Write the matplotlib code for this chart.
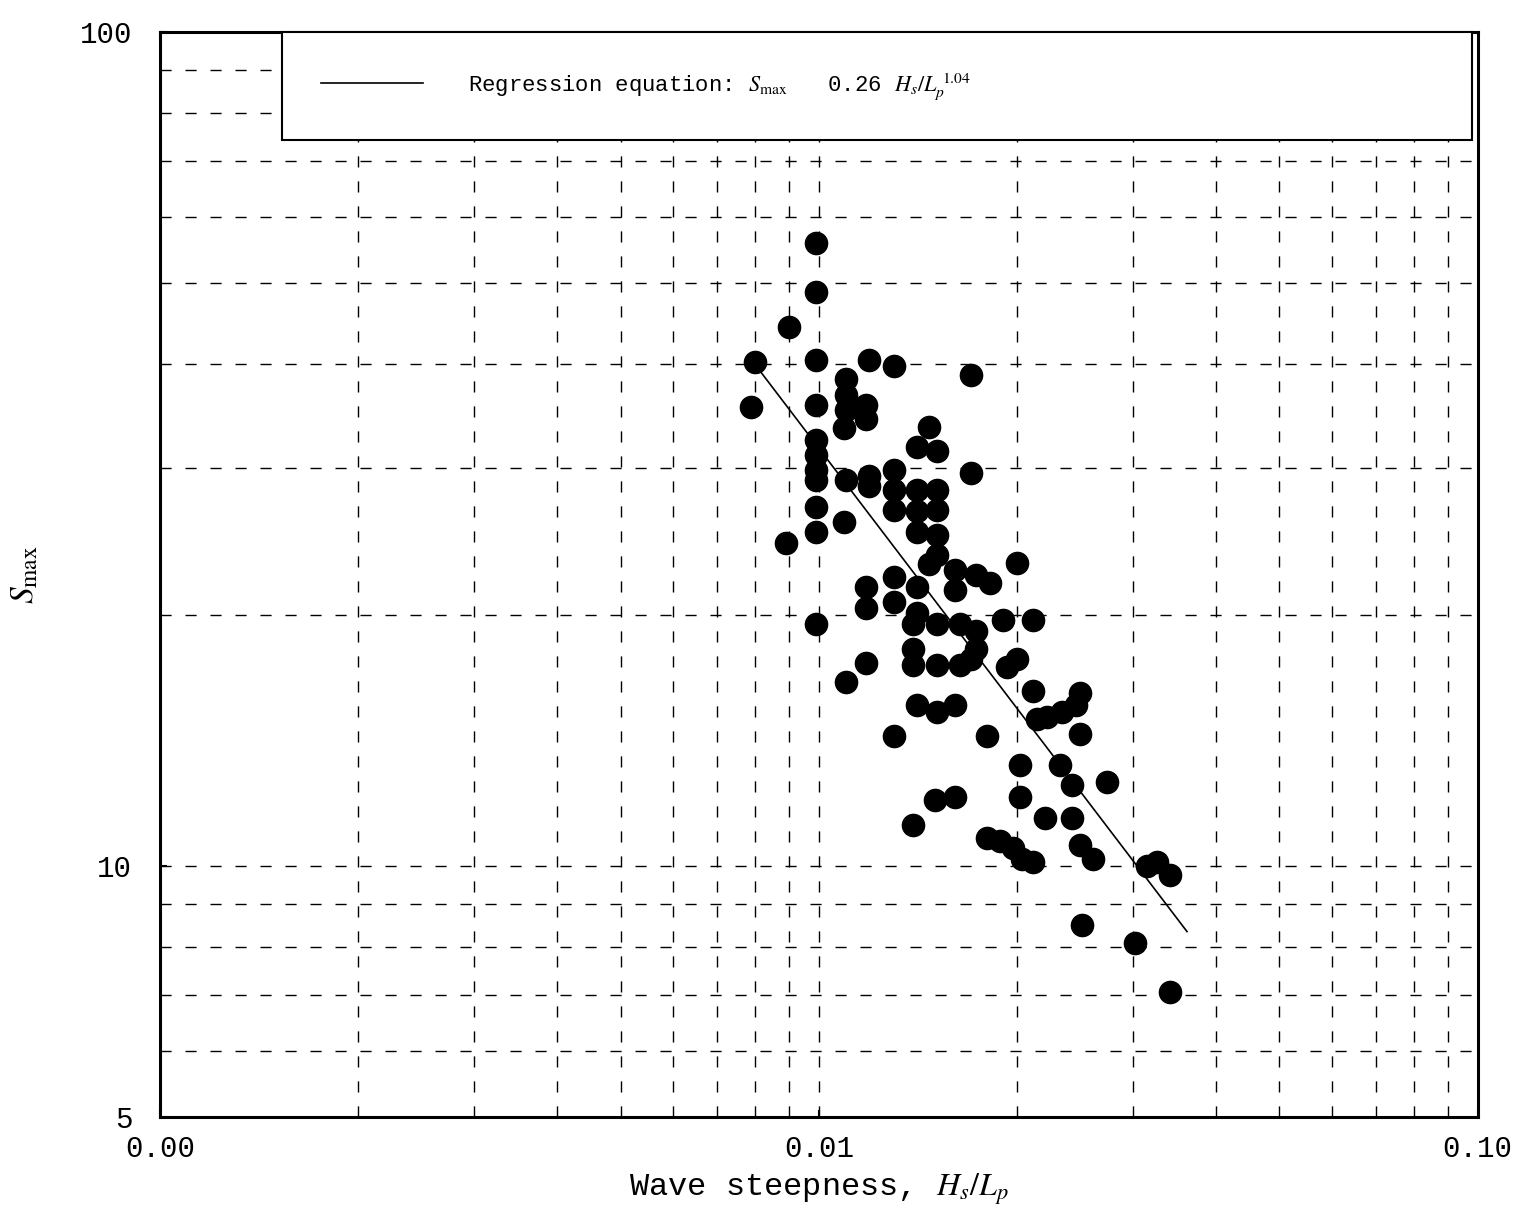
import numpy as np
import matplotlib
matplotlib.use("Agg")
import matplotlib.pyplot as plt
from matplotlib.ticker import LogLocator, FixedLocator, FixedFormatter, NullFormatter

# wave steepness Hs/Lp and Smax
steepness = [0.0099, 0.0099, 0.0090, 0.0080, 0.0099, 0.0119, 0.0130, 0.0170,
             0.0079, 0.0099, 0.0110, 0.0110, 0.0110, 0.0118, 0.0118, 0.0109,
             0.0147, 0.0141, 0.0151, 0.0099, 0.0099, 0.0099, 0.0099, 0.0170,
             0.0110, 0.0119, 0.0119, 0.0130, 0.0130, 0.0130, 0.0141, 0.0151,
             0.0141, 0.0151, 0.0141, 0.0151, 0.0151, 0.0099, 0.0099, 0.0109,
             0.0089, 0.0200, 0.0147, 0.0161, 0.0173, 0.0182, 0.0161, 0.0130,
             0.0118, 0.0118, 0.0130, 0.0141, 0.0141, 0.0190, 0.0211, 0.0099,
             0.0139, 0.0151, 0.0164, 0.0173, 0.0139, 0.0173, 0.0139, 0.0151,
             0.0164, 0.0170, 0.0118, 0.0110, 0.0193, 0.0200, 0.0211, 0.0249,
             0.0222, 0.0234, 0.0246, 0.0214, 0.0141, 0.0151, 0.0161, 0.0130,
             0.0180, 0.0249, 0.0202, 0.0232, 0.0242, 0.0274, 0.0202, 0.0150,
             0.0161, 0.0139, 0.0220, 0.0242, 0.0180, 0.0188, 0.0197, 0.0203,
             0.0211, 0.0249, 0.0261, 0.0315, 0.0326, 0.0341, 0.0251, 0.0302,
             0.0341]
s_max = [55.8, 48.7, 44.2, 40.2, 40.4, 40.4, 39.7, 38.8,
         35.5, 35.7, 38.3, 36.7, 35.2, 35.7, 34.3, 33.5,
         33.6, 31.8, 31.4, 32.4, 31.1, 29.8, 29.0, 29.6,
         29.0, 29.3, 28.5, 29.8, 28.2, 26.7, 28.2, 28.2,
         26.6, 26.7, 25.1, 24.9, 23.6, 26.9, 25.1, 25.8,
         24.4, 23.1, 23.0, 22.6, 22.3, 21.8, 21.4, 22.2,
         21.6, 20.4, 20.7, 21.6, 20.1, 19.7, 19.7, 19.5,
         19.5, 19.5, 19.5, 19.1, 18.2, 18.2, 17.4, 17.4,
         17.4, 17.7, 17.5, 16.6, 17.3, 17.7, 16.2, 16.1,
         15.1, 15.3, 15.6, 15.0, 15.6, 15.3, 15.6, 14.3,
         14.3, 14.4, 13.2, 13.2, 12.5, 12.6, 12.1, 12.0,
         12.1, 11.2, 11.4, 11.4, 10.8, 10.7, 10.5, 10.2,
         10.1, 10.6, 10.2, 10.0, 10.1, 9.75, 8.50, 8.09,
         7.06]

# end points of the regression line Smax = 0.26 (Hs/Lp)^-1.04
line_x = [0.0080, 0.0362]
line_y = [39.9, 8.34]

x_ticks = [0.001, 0.01, 0.1]
x_labels = ["0.00", "0.01", "0.10"]
y_ticks = [5, 10, 100]
y_labels = ["5", "10", "100"]

mono = "Liberation Mono"


def draw_chart():
    plt.rcParams["mathtext.fontset"] = "stix"
    fig = plt.figure(figsize=(15.25, 12.18), dpi=100)
    ax = fig.add_axes([0.105, 0.083, 0.864, 0.891])

    ax.set_xscale("log")
    ax.set_yscale("log")
    ax.set_xlim(0.001, 0.1)
    ax.set_ylim(5, 100)

    ax.plot(line_x, line_y, color="black", linewidth=1.2,
            label=r"Regression equation: $S_{\mathrm{max}}$   0.26 $H_s/L_p^{\ 1.04}$")
    ax.plot(steepness, s_max, linestyle="none", marker="o", markersize=16,
            color="black", label="_nolegend_")

    ax.xaxis.set_major_locator(FixedLocator(x_ticks))
    ax.xaxis.set_major_formatter(FixedFormatter(x_labels))
    ax.yaxis.set_major_locator(FixedLocator(y_ticks))
    ax.yaxis.set_major_formatter(FixedFormatter(y_labels))
    ax.xaxis.set_minor_locator(LogLocator(base=10, subs=np.arange(2, 10)))
    ax.yaxis.set_minor_locator(LogLocator(base=10, subs=np.arange(2, 10)))
    ax.xaxis.set_minor_formatter(NullFormatter())
    ax.yaxis.set_minor_formatter(NullFormatter())

    ax.grid(which="both", color="black", linewidth=1.0, linestyle=(0, (8, 10)))
    ax.tick_params(which="major", direction="in", length=5, width=1.5, labelsize=21)
    ax.tick_params(axis="x", which="major", pad=13)
    ax.tick_params(axis="y", which="major", pad=20)
    ax.tick_params(which="minor", length=0)
    for lab in ax.get_xticklabels() + ax.get_yticklabels():
        lab.set_family(mono)

    for spine in ax.spines.values():
        spine.set_linewidth(2.2)

    ax.set_xlabel(r"Wave steepness, $H_s/L_p$", fontsize=23, family=mono, labelpad=6)
    ax.set_ylabel(r"$S_{\mathrm{max}}$", fontsize=24, labelpad=28)

    leg = ax.legend(loc="upper left", bbox_to_anchor=(0.0926, 1.0, 0.903, 0.0),
                    mode="expand", frameon=True, fancybox=False, framealpha=1,
                    borderpad=1.75, handlelength=4.6, handletextpad=2.0,
                    borderaxespad=0, prop={"family": mono, "size": 16})
    leg.get_frame().set_edgecolor("black")
    leg.get_frame().set_linewidth(1.5)

    fig.savefig("out.png", dpi=100)


if __name__ == '__main__':
    draw_chart()
